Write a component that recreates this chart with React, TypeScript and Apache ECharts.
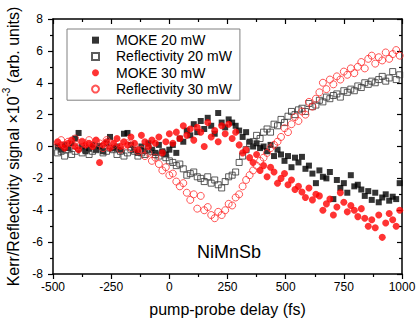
import React, { useEffect, useRef } from "react";
import * as echarts from "echarts";

const delays = [
  -480, -465, -450, -435, -420, -405, -390, -375, -360, -345,
  -330, -315, -300, -285, -270, -255, -240, -225, -210, -195,
  -180, -165, -150, -135, -120, -105, -90, -75, -60, -45,
  -30, -15, 0, 15, 30, 45, 60, 75, 90, 105,
  120, 135, 150, 165, 180, 195, 210, 225, 240, 255,
  270, 285, 300, 315, 330, 345, 360, 375, 390, 405,
  420, 435, 450, 465, 480, 495, 510, 525, 540, 555,
  570, 585, 600, 615, 630, 645, 660, 675, 690, 705,
  720, 735, 750, 765, 780, 795, 810, 825, 840, 855,
  870, 885, 900, 915, 930, 945, 960, 975, 990,
];

const moke20 = [
  0.0, -0.2, 0.1, -0.1, 0.2, 0.5, 0.85, 0.0, -0.3, -0.1,
  0.1, -0.2, 0.0, -0.3, 0.2, 0.6, -0.1, 0.0, -0.2, 0.8,
  0.85, 0.1, -0.2, -0.4, 0.0, -0.3, 0.2, -0.2, -0.4, 0.1,
  -0.3, -0.5, -0.2, 0.1, -0.4, 0.5, 0.3, 1.0, 0.7, 1.4,
  0.9, 1.6, 1.1, 1.8, 1.3, 0.8, 2.1, 1.5, 1.2, 1.7,
  1.5, 1.3, 1.0, 0.6, 0.9, 0.3, 0.0, 0.2, -0.1, 0.0,
  -0.3, 0.1, -0.6, -0.2, -0.5, -0.9, -0.6, -1.3, -0.7, -1.0,
  -0.65, -1.4, -1.2, -1.7, -2.3, -1.5, -1.9, -2.0, -1.6, -3.3,
  -2.1, -2.6, -2.3, -2.9, -1.8, -2.5, -2.4, -2.7, -3.1, -2.8,
  -3.35, -2.9, -3.5, -3.2, -3.0, -3.4, -3.15, -3.3, -2.3,
];

const refl20 = [
  -0.4, -0.3, -0.6, -0.2, -0.5, -0.3, -0.1, -0.4, -0.2, -0.5,
  -0.3, -0.2, 0.0, -0.4, -0.3, -0.1, -0.2, -0.5, -0.3, -0.6,
  -0.4, -0.2, -0.3, -0.6, -0.4, -0.5, -0.2, -0.3, -0.5, -0.6,
  -0.4, -0.7, -0.9, -1.0, -1.2, -1.1, -1.4, -1.8, -1.7, -1.6,
  -1.9, -2.0, -2.2, -1.9, -2.3, -2.1, -2.4, -2.6, -2.2, -1.9,
  -1.8, -1.6, -1.0, -0.6, -0.2, 0.2, 0.3, 0.7, 0.5, 0.9,
  1.1, 0.9, 1.4, 1.3, 1.7, 1.5, 1.9, 2.2, 2.0, 2.3,
  2.4, 2.2, 2.7, 2.5, 2.6, 2.9, 2.8, 3.1, 3.0, 3.2,
  3.3, 3.1, 3.5, 3.4, 3.6, 3.5, 3.8, 3.7, 4.0, 3.9,
  4.1, 4.0, 4.2, 4.4, 4.1, 4.3, 4.7, 4.2, 4.5,
];

const moke30 = [
  0.3, 0.1, -0.1, 0.2, 0.4, 0.0, -0.2, 0.3, 0.1, 0.2,
  0.0, 0.4, -1.0, 0.1, 0.3, -0.1, 0.2, 0.5, 0.0, 0.3,
  0.1, 0.6, 0.2, -0.2, 0.7, 0.3, 0.0, 0.4, 0.2, 0.6,
  -0.4, 0.3, 0.8, 0.2, 0.9, 0.5, 1.3, 0.7, 1.1, 0.4,
  1.2, 0.9, 0.0, 1.5, 0.6, 1.0, 0.3, 1.3, 0.8, 1.4,
  0.5, 0.9, 0.1, -0.4, -0.2, -0.7, -1.0, -0.5, -1.5, -1.2,
  -1.9, -1.3, -1.6, -2.3, -2.0, -1.7, -2.4, -2.1, -2.7, -2.5,
  -2.85, -3.2, -2.6, -3.35, -3.0, -3.1, -4.0, -3.6, -3.3, -4.3,
  -3.8, -2.9, -3.5, -4.1, -3.7, -4.0, -4.4, -3.9, -4.5, -5.0,
  -4.6, -5.1, -4.3, -5.7, -4.8, -4.2, -4.6, -5.0, -4.0,
];

const refl30 = [
  0.2, 0.4, 0.1, 0.3, 0.2, 0.5, 0.0, 0.3, 0.2, 0.4,
  0.1, 0.3, 0.2, -0.1, 0.4, 0.2, 0.1, 0.3, -0.2, 0.1,
  0.2, -0.1, 0.1, -0.3, -0.2, -0.6, -0.4, -0.9, -0.7, -1.1,
  -1.5, -1.3, -1.8, -1.7, -2.2, -2.5, -2.3, -2.9, -3.35, -3.0,
  -3.9, -3.1, -4.0, -3.8, -4.3, -4.5, -4.1, -4.3, -4.0, -3.6,
  -3.7, -3.2, -3.0, -2.5, -2.1, -1.8, -1.5, -1.2, -0.9, -0.7,
  -0.4, -0.1, 0.1, 0.3, 0.6, 1.15, 0.9, 1.4, 1.85, 1.6,
  2.2, 2.0, 2.8, 2.5, 3.0, 3.4, 4.0, 3.6, 4.2, 3.9,
  4.4, 4.2, 4.7, 4.5, 4.9, 4.6, 5.0, 5.3, 4.9, 5.5,
  5.7, 5.2, 5.6, 5.4, 5.9, 5.5, 5.8, 6.05, 5.7,
];

const seriesNames = ["MOKE 20 mW", "Reflectivity 20 mW", "MOKE 30 mW", "Reflectivity 30 mW"];
const xTitle = "pump-probe delay (fs)";
const sampleLabel = "NiMnSb";

const FONT = "'Liberation Sans', Arial, Helvetica, sans-serif";

const pairs = (ys: number[]) => delays.map((d, i) => [d, ys[i]]);

export default function App() {
  const ref = useRef<HTMLDivElement>(null);
  useEffect(() => {
    document.body.style.margin = "0";
    const chart = echarts.init(ref.current!, null, { renderer: "svg" });
    const axisLine = { show: true, onZero: false, lineStyle: { color: "#000", width: 1.5 } };
    const tickStyle = { color: "#000", width: 1.2 };
    chart.setOption({
      animation: false,
      backgroundColor: "#fff",
      textStyle: { fontFamily: FONT },
      grid: { left: 53, right: 17, top: 19, bottom: 48, outerBoundsMode: "none" },
      legend: {
        orient: "vertical",
        left: 67,
        top: 29,
        padding: [3, 8, 3, 24],
        itemWidth: 7,
        itemHeight: 7,
        itemGap: 0,
        borderColor: "#808080",
        borderWidth: 1,
        textStyle: {
          fontSize: 14,
          color: "#000",
          lineHeight: 16.3,
          fontFamily: FONT,
          padding: [0, 0, 0, 12],
        },
        data: seriesNames,
      },
      xAxis: [
        {
          type: "value",
          min: -500,
          max: 1000,
          interval: 250,
          position: "bottom",
          axisLine,
          axisTick: { show: true, inside: false, length: 5, lineStyle: tickStyle },
          minorTick: { show: true, splitNumber: 2, length: 3, lineStyle: tickStyle },
          splitLine: { show: false },
          axisLabel: {
            fontSize: 12,
            color: "#000",
            margin: 7,
            fontFamily: FONT,
            formatter: (v: number) => String(v),
          },
          name: xTitle,
          nameLocation: "middle",
          nameGap: 27,
          nameTextStyle: { fontSize: 16, color: "#000", fontFamily: FONT },
        },
        {
          type: "value",
          min: -500,
          max: 1000,
          interval: 250,
          position: "top",
          axisLine,
          axisTick: { show: true, inside: true, length: 5, lineStyle: tickStyle },
          minorTick: { show: true, splitNumber: 2, length: 3, lineStyle: tickStyle },
          splitLine: { show: false },
          axisLabel: { show: false },
        },
      ],
      yAxis: [
        {
          type: "value",
          min: -8,
          max: 8,
          interval: 2,
          position: "left",
          axisLine,
          axisTick: { show: true, inside: false, length: 5, lineStyle: tickStyle },
          minorTick: { show: true, splitNumber: 2, length: 3, lineStyle: tickStyle },
          splitLine: { show: false },
          axisLabel: { fontSize: 12, color: "#000", margin: 10, fontFamily: FONT },
          name: "{a|Kerr/Reflectivity signal ×10}{s|-3}{a| (arb. units)}",
          nameLocation: "middle",
          nameGap: 30,
          nameRotate: 90,
          nameTextStyle: {
            color: "#000",
            fontFamily: FONT,
            rich: {
              a: { fontSize: 16, lineHeight: 20, verticalAlign: "bottom", color: "#000", fontFamily: FONT },
              s: { fontSize: 10, lineHeight: 12, verticalAlign: "top", color: "#000", fontFamily: FONT },
            },
          },
        },
        {
          type: "value",
          min: -8,
          max: 8,
          interval: 2,
          position: "right",
          axisLine,
          axisTick: { show: true, inside: true, length: 5, lineStyle: tickStyle },
          minorTick: { show: true, splitNumber: 2, length: 3, lineStyle: tickStyle },
          splitLine: { show: false },
          axisLabel: { show: false },
        },
      ],
      graphic: [
        {
          type: "text",
          left: 197,
          top: 243,
          style: { text: sampleLabel, fontSize: 18, fill: "#000", fontFamily: FONT },
        },
      ],
      series: [
        {
          name: seriesNames[0],
          type: "scatter",
          symbol: "rect",
          symbolSize: 6,
          itemStyle: { color: "#000" },
          data: pairs(moke20),
        },
        {
          name: seriesNames[1],
          type: "scatter",
          symbol: "rect",
          symbolSize: 6,
          itemStyle: { color: "rgba(255,255,255,0)", borderColor: "#333", borderWidth: 1 },
          data: pairs(refl20),
        },
        {
          name: seriesNames[2],
          type: "scatter",
          symbol: "circle",
          symbolSize: 7,
          itemStyle: { color: "#ff0000" },
          data: pairs(moke30),
        },
        {
          name: seriesNames[3],
          type: "scatter",
          symbol: "circle",
          symbolSize: 7,
          itemStyle: { color: "rgba(255,255,255,0)", borderColor: "#ff2a2a", borderWidth: 1 },
          data: pairs(refl30),
        },
      ],
    });
    return () => chart.dispose();
  }, []);
  return (
    <div
      ref={ref}
      style={{ position: "absolute", left: 0, top: 0, width: 419, height: 322 }}
    />
  );
}
